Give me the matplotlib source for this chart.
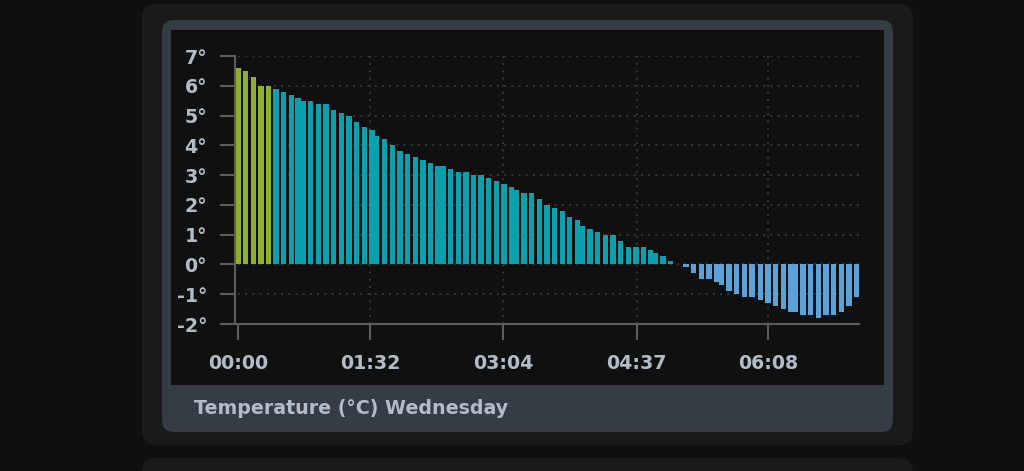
import matplotlib
matplotlib.use('Agg')
import matplotlib.pyplot as plt
from matplotlib.patches import FancyBboxPatch, Rectangle

# %% Data
minutes = [0, 5.35, 10.6, 16.0, 21.3, 26.4, 31.7, 37.0, 41.7, 45.1,
           50.5, 55.8, 61.1, 66.5, 71.7, 77.1, 82.4, 87.7, 93.1, 96.0,
           101.9, 107.2, 112.5, 117.8, 123.1, 128.4, 133.8, 138.9, 142.4, 147.7,
           153.0, 158.4, 163.4, 168.7, 174.1, 179.4, 184.7, 190.1, 193.3, 198.6,
           204.0, 209.3, 214.6, 219.9, 225.2, 230.3, 235.6, 239.1, 244.5, 249.8,
           255.1, 260.4, 265.7, 271.0, 276.4, 281.4, 286.6, 290.1, 295.2, 300.5,
           305.8, 311.1, 316.4, 321.7, 327.1, 332.4, 335.9, 341.0, 346.3, 351.6,
           356.9, 362.7, 368.0, 373.4, 378.7, 383.8, 387.3, 392.4, 397.7, 403.0,
           408.3, 413.7, 419.0, 424.3, 429.4]
temps = [6.6, 6.5, 6.3, 6.0, 6.0,
         5.9, 5.8, 5.7, 5.6, 5.5, 5.5, 5.4, 5.4, 5.2, 5.1,
         5.0, 4.8, 4.6, 4.5, 4.3, 4.2, 4.0, 3.8, 3.7, 3.6,
         3.5, 3.4, 3.3, 3.3, 3.2, 3.1, 3.1, 3.0, 3.0, 2.9,
         2.8, 2.7, 2.6, 2.5, 2.4, 2.4, 2.2, 2.0, 1.9, 1.8,
         1.6, 1.5, 1.3, 1.2, 1.1, 1.0, 1.0, 0.8, 0.6, 0.6,
         0.6, 0.5, 0.4, 0.3, 0.1, 0.0,
         -0.1, -0.3, -0.5, -0.5, -0.6, -0.7, -0.9, -1.0, -1.1, -1.1,
         -1.2, -1.3, -1.4, -1.5, -1.6, -1.6, -1.7, -1.7, -1.8, -1.7,
         -1.7, -1.6, -1.4, -1.1]
n_past = 5  # first bars drawn in green

tick_minutes = [0, 92, 184, 277, 368]
tick_labels = ['00:00', '01:32', '03:04', '04:37', '06:08']
y_ticks = [-2, -1, 0, 1, 2, 3, 4, 5, 6, 7]
y_labels = [f'{v}°' for v in y_ticks]
title = 'Temperature (°C) Wednesday'

# %% Colours
page_bg = '#0f0f0f'
outer_card = '#1a1a1a'
inner_card = '#363c46'
plot_bg = '#101010'
green = '#8fb02a'
teal = '#0aa0ad'
blue = '#5aa2d8'
axis_col = '#5c5c5c'
grid_col = '#363636'
text_col = '#b2bcc8'

plt.rcParams['font.family'] = ['DejaVu Sans']

fig = plt.figure(figsize=(10.24, 4.71), dpi=100, facecolor=page_bg)

# background cards, in pixel coordinates
bg = fig.add_axes([0, 0, 1, 1])
bg.set_xlim(0, 1024)
bg.set_ylim(471, 0)
bg.axis('off')


def card(x0, y0, x1, y1, r, color):
    bg.add_patch(FancyBboxPatch((x0, y0), x1 - x0, y1 - y0,
                                boxstyle=f'round,pad=0,rounding_size={r}',
                                fc=color, ec='none'))


card(142, 4, 913, 445, 14, outer_card)
card(142, 458, 913, 500, 14, outer_card)
card(162, 20, 893, 432, 12, inner_card)
bg.add_patch(Rectangle((171, 30), 713, 355, fc=plot_bg, ec='none'))
bg.text(194, 408, title, ha='left', va='center', fontsize=13.7,
        fontweight='bold', color=text_col)

# %% Bar chart
ax = fig.add_axes([234.5 / 1024, (471 - 324) / 471,
                   624.1 / 1024, 268 / 471])
ax.set_facecolor('none')

colors = [green if i < n_past else (teal if t >= 0 else blue)
          for i, t in enumerate(temps)]
ax.bar(minutes, temps, width=3.65, color=colors, linewidth=0, zorder=2)

dots = (0, (1, 2.7))
ax.hlines(y_ticks[1:], 0, 431, colors=grid_col, linestyles=dots, lw=1.4, zorder=0)
ax.vlines(tick_minutes[1:], -2, 7, colors=grid_col, linestyles=dots, lw=1.4, zorder=0)

ax.set_xlim(-2.43, 431)
ax.set_ylim(-2, 7)
ax.set_xticks(tick_minutes)
ax.set_xticklabels(tick_labels)
ax.set_yticks(y_ticks)
ax.set_yticklabels(y_labels)

for s in ['top', 'right']:
    ax.spines[s].set_visible(False)
for s in ['left', 'bottom']:
    ax.spines[s].set_color(axis_col)
    ax.spines[s].set_linewidth(1.5)

ax.tick_params(axis='y', length=10.8, width=1.5, color=axis_col, pad=9,
               labelsize=13.7, labelcolor=text_col)
ax.tick_params(axis='x', length=11.5, width=1.5, color=axis_col, pad=10,
               labelsize=13.7, labelcolor=text_col)
for lab in ax.get_xticklabels() + ax.get_yticklabels():
    lab.set_fontweight('bold')

fig.savefig('out.png', dpi=100, facecolor=page_bg)
